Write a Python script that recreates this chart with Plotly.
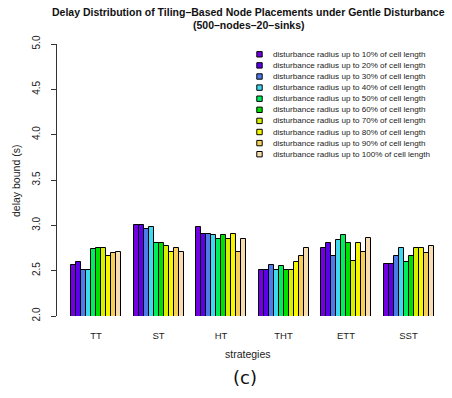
import plotly.graph_objects as go

# Strategies (groups) and disturbance levels (series)
strategies = ["TT", "ST", "HT", "THT", "ETT", "SST"]
radius_labels = [
    "disturbance radius up to 10% of cell length",
    "disturbance radius up to 20% of cell length",
    "disturbance radius up to 30% of cell length",
    "disturbance radius up to 40% of cell length",
    "disturbance radius up to 50% of cell length",
    "disturbance radius up to 60% of cell length",
    "disturbance radius up to 70% of cell length",
    "disturbance radius up to 80% of cell length",
    "disturbance radius up to 90% of cell length",
    "disturbance radius up to 100% of cell length",
]

# Delay bound (s) per strategy, one list per disturbance radius
r10 = [2.56, 3.00, 2.98, 2.51, 2.75, 2.57]
r20 = [2.60, 3.00, 2.90, 2.51, 2.80, 2.57]
r30 = [2.51, 2.96, 2.90, 2.56, 2.66, 2.66]
r40 = [2.51, 2.98, 2.89, 2.51, 2.84, 2.75]
r50 = [2.74, 2.80, 2.85, 2.55, 2.89, 2.60]
r60 = [2.75, 2.81, 2.89, 2.51, 2.80, 2.66]
r70 = [2.75, 2.77, 2.85, 2.51, 2.61, 2.75]
r80 = [2.66, 2.71, 2.90, 2.60, 2.81, 2.75]
r90 = [2.70, 2.75, 2.71, 2.66, 2.71, 2.70]
r100 = [2.71, 2.71, 2.85, 2.75, 2.86, 2.77]
series = [r10, r20, r30, r40, r50, r60, r70, r80, r90, r100]

y_ticks = [2.0, 2.5, 3.0, 3.5, 4.0, 4.5, 5.0]

colors = ["#7200E0", "#5C00EA", "#4F7BEA", "#3FD8F0", "#00EE5C",
          "#00E000", "#D8F000", "#F6F600", "#F5CF5A", "#F8DDB0"]

W, H = 452, 398
L, R, T, B = 57, 13, 44, 82
PW, PH = W - L - R, H - T - B

GROUP_STEP = 12.5   # 10 bars + gap, in bar-width units
N = len(series)


def px_x(px):
    return (px - L) / PW


def px_y(py):
    return (H - B - py) / PH


fig = go.Figure()
for i, vals in enumerate(series):
    xs = [g * GROUP_STEP + i + 0.5 for g in range(len(strategies))]
    fig.add_trace(go.Bar(
        x=xs, y=vals, width=1.0, name=radius_labels[i],
        marker=dict(color=colors[i], line=dict(color="black", width=1)),
        showlegend=False,
    ))

centers = [g * GROUP_STEP + N / 2 for g in range(len(strategies))]

font = "Liberation Sans, Arial, Helvetica, sans-serif"

fig.update_layout(
    width=W, height=H,
    margin=dict(l=L, r=R, t=T, b=B),
    paper_bgcolor="white", plot_bgcolor="white",
    barmode="overlay", bargap=0,
    font=dict(family=font, color="#222"),
    xaxis=dict(
        range=[-2.8, 73.6], tickvals=centers, ticktext=strategies,
        showline=False, showgrid=False, zeroline=False, ticks="",
        tickfont=dict(size=9.5, color="#222"), ticklabelstandoff=12,
    ),
    yaxis=dict(
        range=[2.0, 5.0], tickvals=y_ticks,
        ticktext=[f"{v:.1f}" for v in y_ticks],
        showline=True, linecolor="#333", linewidth=1,
        ticks="outside", ticklen=5, tickcolor="#333", tickwidth=1,
        tickangle=-90, showgrid=False, zeroline=False,
        tickfont=dict(size=10, color="#222"), ticklabelstandoff=7,
    ),
)

annotations = [
    dict(text="<b>Delay Distribution of Tiling\u2013Based Node Placements under Gentle Disturbance</b>",
         x=px_x(248), y=px_y(12), font=dict(size=10.5, color="#111")),
    dict(text="<b>(500\u2013nodes\u201320\u2013sinks)</b>",
         x=px_x(248), y=px_y(25), font=dict(size=10.5, color="#111")),
    dict(text="delay bound (s)", x=px_x(16), y=px_y(181), textangle=-90,
         font=dict(size=10.5, color="#222")),
    dict(text="strategies", x=px_x(248), y=px_y(354),
         font=dict(size=10.5, color="#222")),
    dict(text="(c)", x=px_x(245), y=px_y(377),
         font=dict(size=18, color="#111", family="DejaVu Sans")),
]

# Legend drawn as swatches plus labels
shapes = []
for i, lab in enumerate(radius_labels):
    cy = 54.3 + i * 11.1
    shapes.append(dict(
        type="rect", xref="paper", yref="paper",
        x0=px_x(256.8), x1=px_x(262.2), y0=px_y(cy + 2.7), y1=px_y(cy - 2.7),
        fillcolor=colors[i], line=dict(color="black", width=1),
    ))
    annotations.append(dict(
        text=lab, x=px_x(270.5), y=px_y(cy), xanchor="left",
        font=dict(size=8.1, color="#222"),
    ))

for a in annotations:
    a.setdefault("xref", "paper")
    a.setdefault("yref", "paper")
    a.setdefault("showarrow", False)
    a.setdefault("xanchor", "center")
    a.setdefault("yanchor", "middle")

fig.update_layout(annotations=annotations, shapes=shapes)

fig.write_html("out.html")
